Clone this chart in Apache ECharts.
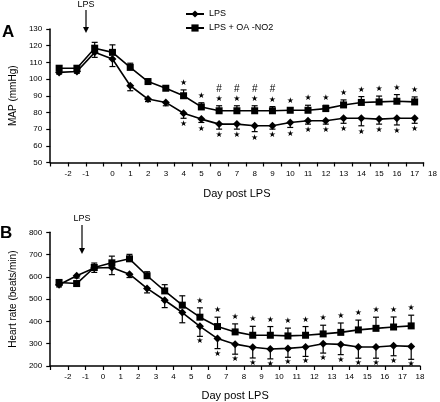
<!DOCTYPE html>
<html><head><meta charset="utf-8">
<script src="https://cdn.jsdelivr.net/npm/echarts@6/dist/echarts.min.js"></script>
<style>html,body{margin:0;padding:0;background:#fff}#c{width:440px;height:402px}</style>
</head><body><div id="c"></div>
<script>
// x positions of the plotted points (in axis units) and tick labels
const days = [-2.5,-1.5,-0.5,0.5,1.5,2.5,3.5,4.5,5.5,6.5,7.5,8.5,9.5,10.5,11.5,12.5,13.5,14.5,15.5,16.5,17.5];
const xTickLabels = ['-2','-1','0','1','2','3','4','5','6','7','8','9','10','11','12','13','14','15','16','17','18'];
const seriesNames = ['LPS', 'LPS + OA -NO2'];

// Panel A: MAP (mmHg)
const mapLPS    = [104,104.5,116,112,96,88,86,79.5,76,73,73,72,72,74,75,75,76.5,76.5,76,76.5,76.5];
const mapLPSErr = [1,1,3,4.5,3,1.5,2,3,2,3,3,3.5,2,3,2,2,3,4.5,3,4,3];
const mapOA     = [106.5,106.5,118.5,116,107,98.5,94.5,90,83.3,81,81,81,81,81.3,81.3,82.3,84.5,86,86.3,86.7,86.3];
const mapOAErr  = [1.5,1.5,3.5,4.5,2.5,1.5,1.5,3.5,2.5,3,3,3,2.5,1.5,3,2,3,3.5,3.5,4,3];
const mapStarIdx = [7,8,9,10,11,12,13,14,15,16,17,18,19,20];
const mapHashIdx = [9,10,11,12];

// Panel B: Heart rate (beats/min)
const hrLPS    = [565,605,640,642,612,548,495,440,378,323,298,284,276,279,285,300,297,285,285,291,288];
const hrLPSErr = [10,10,20,32,15,20,33,46,45,45,45,48,44,40,42,42,46,50,50,45,58];
const hrOA     = [575,570,642,663,681,605,537,473,419,377,353,338,338,335,338,344,351,362,369,375,380];
const hrOAErr  = [10,10,20,30,20,18,28,42,42,42,36,40,39,35,39,39,42,44,50,45,48];
const hrStarIdx = [8,9,10,11,12,13,14,15,16,17,18,19,20];

const FONT = "'Liberation Sans', Arial, sans-serif";
const chart = echarts.init(document.getElementById('c'), null, {renderer:'canvas'});

function xAxisDef(gridIndex, shifted, gap){
  return {
    type:'value', gridIndex, min:-3, max:18, interval:1,
    name:'Day post LPS', nameLocation:'middle', nameGap:gap,
    nameTextStyle:{color:'#000', fontSize:11, fontFamily:FONT},
    axisLine:{show:true, onZero:false, lineStyle:{color:'#000', width:1.5}},
    axisTick:{show:true, inside:false, length:4, lineStyle:{color:'#000', width:1.2}},
    splitLine:{show:false},
    axisLabel:{
      color:'#000', fontSize:8, fontFamily:FONT, margin:7, showMinLabel:true, showMaxLabel:true,
      formatter:(v)=>{
        const i = Math.round(v) + 2;
        const t = xTickLabels[i];
        if (t === undefined) return '';
        if (shifted && v >= 0) return '{s|' + t + '}';
        return t;
      },
      rich:{ s:{padding:[0,0,0,18], fontSize:8, fontFamily:FONT, color:'#000'} }
    }
  };
}
function yAxisDef(gridIndex, name, min, max, interval){
  return {
    type:'value', gridIndex, min, max, interval,
    name, nameLocation:'middle', nameGap:29,
    nameTextStyle:{color:'#000', fontSize:10, fontFamily:FONT},
    axisLine:{show:true, onZero:false, lineStyle:{color:'#000', width:1.5}},
    axisTick:{show:true, inside:false, length:4, lineStyle:{color:'#000', width:1.2}},
    splitLine:{show:false},
    axisLabel:{color:'#000', fontSize:8, fontFamily:FONT, margin:8}
  };
}
function lineSeries(name, xi, vals, symbol, size){
  return {
    type:'line', name, xAxisIndex:xi, yAxisIndex:xi,
    data: days.map((d,i)=>[d, vals[i]]),
    symbol, symbolSize:size, showSymbol:true,
    itemStyle:{color:'#000'}, lineStyle:{color:'#000', width:1.6},
    z:5, animation:false
  };
}
// one-sided error bars: dir = +1 (upward) or -1 (downward)
function errSeries(xi, vals, errs, dir){
  return {
    type:'custom', xAxisIndex:xi, yAxisIndex:xi, silent:true, z:4, animation:false,
    data: days.map((d,i)=>[d, vals[i], errs[i]]),
    renderItem:(p, api)=>{
      const x = api.value(0), y = api.value(1), e = api.value(2);
      const t = api.coord([x, y + dir*e]), b = api.coord([x, y]);
      const hw = 3, st = {stroke:'#000', lineWidth:1.2};
      return {type:'group', children:[
        {type:'line', shape:{x1:t[0],y1:t[1],x2:b[0],y2:b[1]}, style:st},
        {type:'line', shape:{x1:t[0]-hw,y1:t[1],x2:t[0]+hw,y2:t[1]}, style:st}
      ]};
    }
  };
}
function markSeries(xi, vals, errs, idx, dir, offset, txt, size, font){
  return {
    type:'custom', xAxisIndex:xi, yAxisIndex:xi, silent:true, z:6, animation:false,
    data: idx.map(i=>[days[i], vals[i] + dir*errs[i]]),
    renderItem:(p, api)=>{
      const c = api.coord([api.value(0), api.value(1)]);
      return {type:'text', x:c[0], y:c[1] - dir*offset,
        style:{text:txt, fill:'#000', fontSize:size, fontFamily:font, align:'center', verticalAlign:'middle'}};
    }
  };
}

const option = {
  backgroundColor:'#fff',
  animation:false,
  grid:[
    {left:41.5, right:16, top:29, height:133.5},
    {left:40, right:20, top:232.3, height:133.7}
  ],
  xAxis:[ xAxisDef(0, true, 26), xAxisDef(1, false, 24) ],
  yAxis:[ yAxisDef(0, 'MAP (mmHg)', 50, 130, 10), yAxisDef(1, 'Heart rate (beats/min)', 200, 800, 100) ],
  legend:{
    data:seriesNames, orient:'vertical', left:180, top:4.5, itemGap:5,
    itemWidth:18, itemHeight:9,
    textStyle:{color:'#000', fontSize:9, fontFamily:FONT}
  },
  series:[
    errSeries(0, mapLPS, mapLPSErr, -1),
    errSeries(0, mapOA, mapOAErr, 1),
    lineSeries(seriesNames[0], 0, mapLPS, 'diamond', 8),
    lineSeries(seriesNames[1], 0, mapOA, 'rect', 7),
    markSeries(0, mapOA, mapOAErr, mapStarIdx, 1, 7, '★', 8, 'DejaVu Sans'),
    markSeries(0, mapLPS, mapLPSErr, mapStarIdx, -1, 6, '★', 8, 'DejaVu Sans'),
    markSeries(0, mapOA, mapOAErr, mapHashIdx, 1, 17, '#', 10, FONT),
    errSeries(1, hrLPS, hrLPSErr, -1),
    errSeries(1, hrOA, hrOAErr, 1),
    lineSeries(seriesNames[0], 1, hrLPS, 'diamond', 8),
    lineSeries(seriesNames[1], 1, hrOA, 'rect', 7),
    markSeries(1, hrOA, hrOAErr, hrStarIdx, 1, 7, '★', 8, 'DejaVu Sans'),
    markSeries(1, hrLPS, hrLPSErr, hrStarIdx, -1, 5, '★', 8, 'DejaVu Sans')
  ],
  graphic:[
    {type:'text', left:2, top:24, style:{text:'A', fill:'#000', fontSize:17, fontWeight:'bold', fontFamily:FONT}},
    {type:'text', left:0, top:225, style:{text:'B', fill:'#000', fontSize:17, fontWeight:'bold', fontFamily:FONT}},
    {type:'text', x:86, y:5, style:{text:'LPS', fill:'#000', fontSize:9, fontFamily:FONT, align:'center', verticalAlign:'middle'}},
    {type:'line', shape:{x1:86, y1:10, x2:86, y2:28}, style:{stroke:'#000', lineWidth:1.2}},
    {type:'polygon', shape:{points:[[83,27],[89,27],[86,33]]}, style:{fill:'#000'}},
    {type:'text', x:82, y:219, style:{text:'LPS', fill:'#000', fontSize:9, fontFamily:FONT, align:'center', verticalAlign:'middle'}},
    {type:'line', shape:{x1:82, y1:225, x2:82, y2:249}, style:{stroke:'#000', lineWidth:1.2}},
    {type:'polygon', shape:{points:[[79,248],[85,248],[82,254]]}, style:{fill:'#000'}}
  ]
};
chart.setOption(option);
</script>
</body></html>
